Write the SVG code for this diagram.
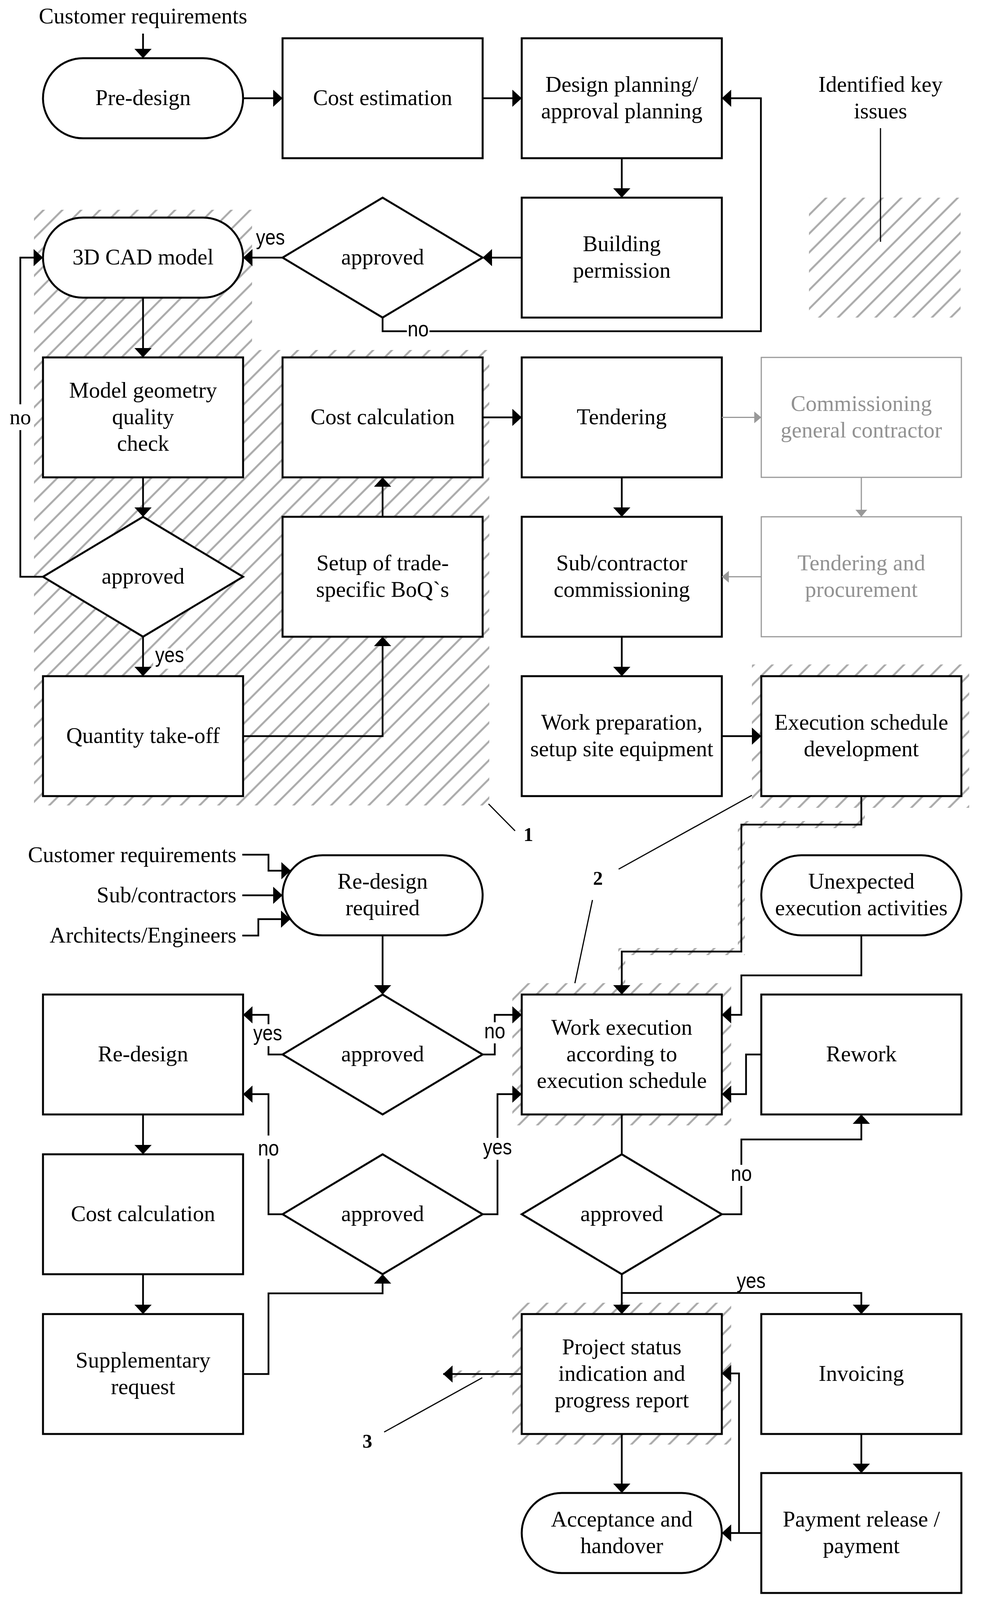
<svg xmlns="http://www.w3.org/2000/svg" width="2523" height="4111" viewBox="0 0 2523 4111">
<style>
.n{fill:#fff;stroke:#000;stroke-width:5}
.g{fill:#fff;stroke:#999;stroke-width:3}
.t{font-family:"Liberation Serif","Times New Roman",serif;font-size:57px;text-anchor:middle;fill:#000}
.tg{fill:#929292}
.lb{font-family:"Liberation Sans",Arial,sans-serif;font-size:56px;text-anchor:middle;fill:#000}
.num{font-family:"Liberation Serif","Times New Roman",serif;font-size:50px;font-weight:bold;text-anchor:middle;fill:#000}
.c{fill:none;stroke:#000;stroke-width:4.5;marker-end:url(#ah)}
.c0{fill:none;stroke:#000;stroke-width:4.5}
.cg{fill:none;stroke:#999;stroke-width:3;marker-end:url(#ahg)}
.call{fill:none;stroke:#000;stroke-width:3}
.hb{fill:none;stroke:url(#hatch);stroke-width:18}
.bg{fill:#fff}
</style>
<defs>
<pattern id="hatch" patternUnits="userSpaceOnUse" width="34" height="34" patternTransform="rotate(45)">
<line x1="17" y1="-2" x2="17" y2="36" stroke="#aaa" stroke-width="5"/>
</pattern>
<marker id="ah" markerUnits="userSpaceOnUse" markerWidth="24" markerHeight="44" viewBox="0 0 24 44" refX="24" refY="22" orient="auto">
<path d="M0,0 L24,22 L0,44 Z" fill="#000"/>
</marker>
<marker id="ahg" markerUnits="userSpaceOnUse" markerWidth="18" markerHeight="30" viewBox="0 0 18 30" refX="18" refY="15" orient="auto">
<path d="M0,0 L18,15 L0,30 Z" fill="#999"/>
</marker>
</defs>
<rect x="0" y="0" width="2523" height="4111" fill="#fff"/>

<g id="hatched-areas">
<polygon points="87,537 645,537 645,896 1252,896 1252,2062 87,2062" fill="url(#hatch)"/>
<rect x="2070" y="506" width="388" height="307" fill="url(#hatch)"/>
<rect x="1924" y="1701" width="556" height="367" fill="url(#hatch)"/>
<rect x="1311" y="2517" width="560" height="364" fill="url(#hatch)"/>
<rect x="1311" y="3335" width="560" height="363" fill="url(#hatch)"/>
<path class="hb" d="M2204,2038 V2111 H1897 V2436 H1591 V2530"/>
<path class="hb" d="M1335,3517.5 H1150"/>
</g>

<g id="key">
<text class="t" x="2253" y="234.5">Identified key</text>
<text class="t" x="2253" y="302.5">issues</text>
<line class="call" x1="2253" y1="328" x2="2253" y2="619"/>
</g>

<g id="input-customer-top"><text class="t" x="366" y="60">Customer requirements</text></g>
<g id="pre-design"><rect class="n" x="110" y="149" width="512" height="205" rx="102.5" ry="102.5"/><text class="t" x="366" y="268.5">Pre-design</text></g>
<g id="cost-estimation"><rect class="n" x="723" y="98" width="512" height="307"/><text class="t" x="979" y="268.5">Cost estimation</text></g>
<g id="design-planning"><rect class="n" x="1335" y="98" width="512" height="307"/><text class="t" x="1591" y="234.5">Design planning/</text><text class="t" x="1591" y="302.5">approval planning</text></g>

<g id="cad-model"><rect class="n" x="110" y="557" width="512" height="205" rx="102.5" ry="102.5"/><text class="t" x="366" y="676.5">3D CAD model</text></g>
<g id="approved-1"><polygon class="n" points="979,506 1235,659.5 979,813 723,659.5"/><text class="t" x="979" y="676.5">approved</text></g>
<g id="building-permission"><rect class="n" x="1335" y="506" width="512" height="307"/><text class="t" x="1591" y="642.5">Building</text><text class="t" x="1591" y="710.5">permission</text></g>

<g id="model-check"><rect class="n" x="110" y="915" width="512" height="307"/><text class="t" x="366" y="1017.5">Model geometry</text><text class="t" x="366" y="1085.5">quality</text><text class="t" x="366" y="1153.5">check</text></g>
<g id="cost-calculation-1"><rect class="n" x="723" y="915" width="512" height="307"/><text class="t" x="979" y="1085.5">Cost calculation</text></g>
<g id="tendering"><rect class="n" x="1335" y="915" width="512" height="307"/><text class="t" x="1591" y="1085.5">Tendering</text></g>
<g id="commissioning-gc"><rect class="g" x="1948" y="915" width="512" height="307"/><text class="t tg" x="2204" y="1051.5">Commissioning</text><text class="t tg" x="2204" y="1119.5">general contractor</text></g>

<g id="approved-2"><polygon class="n" points="366,1323 622,1476.5 366,1630 110,1476.5"/><text class="t" x="366" y="1493.5">approved</text></g>
<g id="setup-boq"><rect class="n" x="723" y="1323" width="512" height="307"/><text class="t" x="979" y="1459.5">Setup of trade-</text><text class="t" x="979" y="1527.5">specific BoQ`s</text></g>
<g id="subcontractor-commissioning"><rect class="n" x="1335" y="1323" width="512" height="307"/><text class="t" x="1591" y="1459.5">Sub/contractor</text><text class="t" x="1591" y="1527.5">commissioning</text></g>
<g id="tendering-procurement"><rect class="g" x="1948" y="1323" width="512" height="307"/><text class="t tg" x="2204" y="1459.5">Tendering and</text><text class="t tg" x="2204" y="1527.5">procurement</text></g>

<g id="quantity-takeoff"><rect class="n" x="110" y="1731" width="512" height="307"/><text class="t" x="366" y="1901.5">Quantity take-off</text></g>
<g id="work-preparation"><rect class="n" x="1335" y="1731" width="512" height="307"/><text class="t" x="1591" y="1867.5">Work preparation,</text><text class="t" x="1591" y="1935.5">setup site equipment</text></g>
<g id="execution-schedule"><rect class="n" x="1948" y="1731" width="512" height="307"/><text class="t" x="2204" y="1867.5">Execution schedule</text><text class="t" x="2204" y="1935.5">development</text></g>

<g id="inputs-redesign">
<text class="t" x="605" y="2207" style="text-anchor:end">Customer requirements</text>
<text class="t" x="605" y="2310" style="text-anchor:end">Sub/contractors</text>
<text class="t" x="605" y="2413" style="text-anchor:end">Architects/Engineers</text>
</g>
<g id="redesign-required"><rect class="n" x="723" y="2189.5" width="512" height="205" rx="102.5" ry="102.5"/><text class="t" x="979" y="2275">Re-design</text><text class="t" x="979" y="2343">required</text></g>
<g id="unexpected-activities"><rect class="n" x="1948" y="2189.5" width="512" height="205" rx="102.5" ry="102.5"/><text class="t" x="2204" y="2275">Unexpected</text><text class="t" x="2204" y="2343">execution activities</text></g>

<g id="redesign"><rect class="n" x="110" y="2546" width="512" height="307"/><text class="t" x="366" y="2716.5">Re-design</text></g>
<g id="approved-3"><polygon class="n" points="979,2546 1235,2699.5 979,2853 723,2699.5"/><text class="t" x="979" y="2716.5">approved</text></g>
<g id="work-execution"><rect class="n" x="1335" y="2546" width="512" height="307"/><text class="t" x="1591" y="2648.5">Work execution</text><text class="t" x="1591" y="2716.5">according to</text><text class="t" x="1591" y="2784.5">execution schedule</text></g>
<g id="rework"><rect class="n" x="1948" y="2546" width="512" height="307"/><text class="t" x="2204" y="2716.5">Rework</text></g>

<g id="cost-calculation-2"><rect class="n" x="110" y="2955" width="512" height="307"/><text class="t" x="366" y="3125.5">Cost calculation</text></g>
<g id="approved-4"><polygon class="n" points="979,2955 1235,3108.5 979,3262 723,3108.5"/><text class="t" x="979" y="3125.5">approved</text></g>
<g id="approved-5"><polygon class="n" points="1591,2955 1847,3108.5 1591,3262 1335,3108.5"/><text class="t" x="1591" y="3125.5">approved</text></g>

<g id="supplementary-request"><rect class="n" x="110" y="3364" width="512" height="307"/><text class="t" x="366" y="3500.5">Supplementary</text><text class="t" x="366" y="3568.5">request</text></g>
<g id="project-status"><rect class="n" x="1335" y="3364" width="512" height="307"/><text class="t" x="1591" y="3466.5">Project status</text><text class="t" x="1591" y="3534.5">indication and</text><text class="t" x="1591" y="3602.5">progress report</text></g>
<g id="invoicing"><rect class="n" x="1948" y="3364" width="512" height="307"/><text class="t" x="2204" y="3534.5">Invoicing</text></g>

<g id="acceptance"><rect class="n" x="1335" y="3822" width="512" height="205" rx="102.5" ry="102.5"/><text class="t" x="1591" y="3907.5">Acceptance and</text><text class="t" x="1591" y="3975.5">handover</text></g>
<g id="payment"><rect class="n" x="1948" y="3771" width="512" height="307"/><text class="t" x="2204" y="3907.5">Payment release /</text><text class="t" x="2204" y="3975.5">payment</text></g>

<g id="connectors">
<path class="c" d="M366,86 V149"/>
<path class="c" d="M620,251.5 H723"/>
<path class="c" d="M1235,251.5 H1335"/>
<path class="c" d="M1591,405 V506"/>
<path class="c" d="M1335,659.5 H1235"/>
<path class="c" d="M723,659.5 H622"/>
<path class="c" d="M979,813 V848 H1947 V251.5 H1847"/>
<path class="c" d="M366,762 V915"/>
<path class="c" d="M366,1222 V1323"/>
<path class="c" d="M110,1476.5 H52 V659.5 H110"/>
<path class="c" d="M366,1630 V1731"/>
<path class="c" d="M622,1884.5 H979 V1630"/>
<path class="c" d="M979,1323 V1222"/>
<path class="c" d="M1235,1068.5 H1335"/>
<path class="cg" d="M1847,1068.5 H1948"/>
<path class="cg" d="M2204,1222 V1323"/>
<path class="cg" d="M1948,1476.5 H1847"/>
<path class="c" d="M1591,1222 V1323"/>
<path class="c" d="M1591,1630 V1731"/>
<path class="c" d="M1847,1884.5 H1948"/>
<path class="c" d="M2204,2038 V2111 H1897 V2436 H1591 V2546"/>
<path class="c" d="M2204,2394.5 V2497 H1897 V2598 H1847"/>
<path class="c" d="M1948,2699.5 H1909 V2801 H1847"/>
<path class="c" d="M620,2188 H687 V2229 H744"/>
<path class="c" d="M620,2292 H723"/>
<path class="c" d="M620,2395 H661 V2353 H743"/>
<path class="c" d="M979,2394.5 V2546"/>
<path class="c" d="M723,2699.5 H687 V2598 H622"/>
<path class="c" d="M1235,2699.5 H1266 V2598 H1335"/>
<path class="c" d="M366,2853 V2955"/>
<path class="c" d="M366,3262 V3364"/>
<path class="c" d="M622,3517.5 H687 V3311 H979 V3262"/>
<path class="c" d="M723,3108.5 H687 V2801 H622"/>
<path class="c" d="M1235,3108.5 H1273 V2801 H1335"/>
<path class="c0" d="M1591,2853 V2955"/>
<path class="c" d="M1847,3108.5 H1897 V2917 H2204 V2853"/>
<path class="c" d="M1591,3262 V3364"/>
<path class="c" d="M1591,3310 H2204 V3364"/>
<path class="c" d="M1335,3517.5 H1134"/>
<path class="c" d="M1591,3671 V3822"/>
<path class="c" d="M2204,3671 V3771"/>
<path class="c" d="M1948,3924.5 H1847"/>
<path class="c" d="M1891,3924.5 V3516 H1847"/>
</g>

<g id="edge-labels">
<text class="lb" x="692" y="626" textLength="74" lengthAdjust="spacingAndGlyphs">yes</text>
<rect class="bg" x="1041" y="828" width="58" height="40"/>
<text class="lb" x="1070" y="861" textLength="54" lengthAdjust="spacingAndGlyphs">no</text>
<rect class="bg" x="24" y="1035" width="56" height="66"/>
<text x="52" y="1086" style="font-family:'Liberation Serif','Times New Roman',serif;font-size:55px;text-anchor:middle">no</text>
<rect class="bg" x="392" y="1660" width="84" height="52"/>
<text class="lb" x="434" y="1695" textLength="74" lengthAdjust="spacingAndGlyphs">yes</text>
<rect class="bg" x="646" y="2622" width="78" height="56"/>
<text class="lb" x="685" y="2663" textLength="74" lengthAdjust="spacingAndGlyphs">yes</text>
<rect class="bg" x="1238" y="2617" width="56" height="54"/>
<text class="lb" x="1266" y="2658" textLength="54" lengthAdjust="spacingAndGlyphs">no</text>
<rect class="bg" x="659" y="2907" width="56" height="60"/>
<text class="lb" x="687" y="2958" textLength="54" lengthAdjust="spacingAndGlyphs">no</text>
<rect class="bg" x="1234" y="2913" width="78" height="56"/>
<text class="lb" x="1273" y="2955" textLength="74" lengthAdjust="spacingAndGlyphs">yes</text>
<rect class="bg" x="1869" y="2982" width="56" height="54"/>
<text class="lb" x="1897" y="3023" textLength="54" lengthAdjust="spacingAndGlyphs">no</text>
<text class="lb" x="1922" y="3297" textLength="74" lengthAdjust="spacingAndGlyphs">yes</text>
</g>

<g id="callouts">
<line class="call" x1="1250" y1="2058" x2="1318" y2="2127"/>
<text class="num" x="1352" y="2153">1</text>
<line class="call" x1="1924" y1="2036" x2="1583" y2="2225"/>
<line class="call" x1="1516" y1="2304" x2="1471" y2="2517"/>
<text class="num" x="1530" y="2265">2</text>
<line class="call" x1="1234" y1="3527" x2="983" y2="3666"/>
<text class="num" x="940" y="3706">3</text>
</g>
</svg>
